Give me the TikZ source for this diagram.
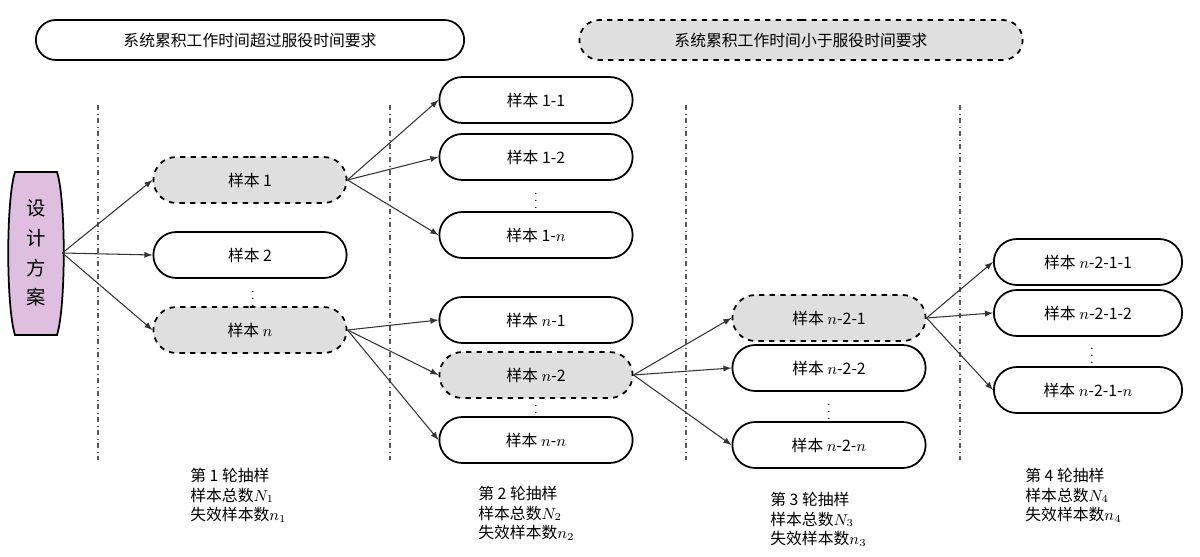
\documentclass[tikz,border=0pt]{standalone}
\usepackage{fontspec}
\setmainfont{Liberation Serif}
\newfontfamily\cjk{Noto Sans CJK SC}
\usetikzlibrary{shapes.misc}
\begin{document}
\begin{tikzpicture}[x=0.2mm,y=-0.2mm,font=\cjk\fontsize{9}{11}\selectfont]
\tikzset{W/.style={rounded rectangle,draw,line width=1pt,minimum width=41mm,minimum height=9.2mm,fill=white},
G/.style={W,dashed,fill=gray!25},
T/.style={W,minimum width=88mm,minimum height=8mm},
V/.style={dash dot,gray!70!black,line width=0.6pt},
A/.style={->,>=latex,gray!40!black,line width=0.6pt},
D/.style={inner sep=0,font=\fontsize{7}{7}\selectfont},
L/.style={align=left,anchor=north west,inner sep=0}
}
\useasboundingbox (0,0) rectangle (1200,557);

% legend
\node[T] (leg1) at (250,40) {系统累积工作时间超过服役时间要求};
\node[T,dashed,fill=gray!25,minimum width=91mm] (leg2) at (801,40) {系统累积工作时间小于服役时间要求};

% separators
\foreach \x in {98,390,686,960}
\draw[V] (\x,105) -- (\x,460);

% design
\draw[fill=violet!25,line width=1pt] (15,172) -- (57,172) .. controls (66,200) and (66,306) .. (57,335) -- (15,335) .. controls (6,306) and (6,200) .. cycle;
\node[minimum width=10.4mm,minimum height=33mm,inner sep=0,align=center,font=\cjk\fontsize{11}{17}\selectfont] (d) at (36,253) {设\\计\\方\\案};

% round 1
\node[G] (s1) at (250,180) {样本 1};
\node[W] (s2) at (250,255) {样本 2};
\node[G] (sn) at (250,330) {样本 $n$};
\node[D] (d1) at (253,294) {$\vdots$};

% round 2
\node[W] (s11) at (536,100) {样本 1-1};
\node[W] (s12) at (536,157) {样本 1-2};
\node[D] (d2) at (536,196) {$\vdots$};
\node[W] (s1n) at (536,235) {样本 1-$n$};
\node[W] (sn1) at (536,320) {样本 $n$-1};
\node[G] (sn2) at (536,375) {样本 $n$-2};
\node[D] (d3) at (536,408) {$\vdots$};
\node[W] (snn) at (536,440) {样本 $n$-$n$};

% round 3
\node[G] (sn21) at (829,318) {样本 $n$-2-1};
\node[W] (sn22) at (829,368) {样本 $n$-2-2};
\node[D] (d4) at (829,407) {$\vdots$};
\node[W] (sn2n) at (829,445) {样本 $n$-2-$n$};

% round 4
\node[W,minimum width=40mm] (sa) at (1088,262) {样本 $n$-2-1-1};
\node[W,minimum width=40mm] (sb) at (1088,313) {样本 $n$-2-1-2};
\node[D] (d5) at (1092,351) {$\vdots$};
\node[W,minimum width=40mm] (sc) at (1088,390) {样本 $n$-2-1-$n$};

% arrows
\foreach \a/\b in {d/s1,d/s2,d/sn,s1/s11,s1/s12,s1/s1n,sn/sn1,sn/sn2,sn/snn,sn2/sn21,sn2/sn22,sn2/sn2n,sn21/sa,sn21/sb,sn21/sc}
\draw[A] (\a.east) -- (\b.west);

% captions
\node[L] (c1) at (190,468) {第 1 轮抽样\\样本总数$N_1$\\失效样本数$n_1$};
\node[L] (c2) at (478,486) {第 2 轮抽样\\样本总数$N_2$\\失效样本数$n_2$};
\node[L] (c3) at (770,492) {第 3 轮抽样\\样本总数$N_3$\\失效样本数$n_3$};
\node[L] (c4) at (1025,468) {第 4 轮抽样\\样本总数$N_4$\\失效样本数$n_4$};
\end{tikzpicture}
\end{document}
